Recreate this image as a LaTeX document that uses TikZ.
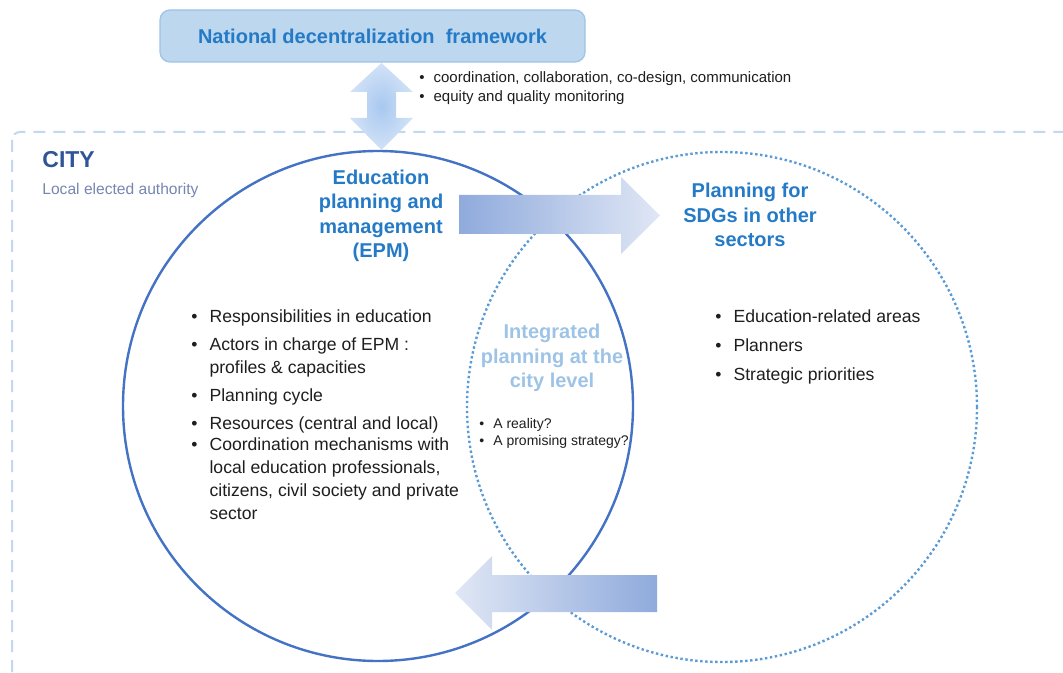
\documentclass[tikz,border=0pt]{standalone}
\usepackage{fontspec}
\setmainfont{Liberation Sans}
\definecolor{headblue}{RGB}{36,122,198}
\definecolor{paleblue}{RGB}{157,195,230}
\definecolor{cityblue}{RGB}{47,85,151}
\definecolor{greyblue}{RGB}{118,134,176}
\definecolor{ringblue}{RGB}{68,114,196}
\definecolor{dotblue}{RGB}{91,155,213}
\definecolor{boxfill}{RGB}{189,215,238}
\definecolor{boxline}{RGB}{157,195,230}
\definecolor{dashblue}{RGB}{194,216,240}
\definecolor{arrowdark}{RGB}{143,170,220}
\definecolor{arrowlight}{RGB}{224,231,245}
\definecolor{linkinner}{RGB}{168,200,240}
\definecolor{linkouter}{RGB}{210,226,246}
\definecolor{bodytext}{RGB}{30,30,30}
\tikzset{
    natbox/.style={rounded corners=5pt, fill=boxfill, draw=boxline, line width=0.6pt, minimum width=212.5pt, minimum height=26pt, font=\fontsize{10}{12}\selectfont\bfseries, text=headblue},
    heading/.style={align=center, font=\fontsize{10}{12.2}\selectfont\bfseries, text=headblue},
    ring/.style={circle, draw=ringblue, line width=1.2pt, minimum size=255pt, inner sep=0},
    dotring/.style={circle, draw=dotblue, line width=1.2pt, dash pattern=on 1.2pt off 1.3pt, minimum size=255pt, inner sep=0},
    bullets/.style={anchor=base west, inner sep=0, font=\fontsize{8.8}{11.5}\selectfont, text=bodytext},
    notes/.style={anchor=base west, inner sep=0, text=bodytext}
}

\begin{document}
\begin{tikzpicture}[x=0.5pt, y=-0.5pt]
    \useasboundingbox (0,0) rectangle (1063,673);
    \draw[dashblue, line width=1pt, dash pattern=on 6pt off 4pt, rounded corners=4pt] (12,132) rectangle (1090,700);
    \node[ring] (epm) at (378,406) {};
    \node[dotring] (sdg) at (722,407) {};
    \node[natbox] (nat) at (372.5,36) {National decentralization \ framework};
    \shade[inner color=linkinner, outer color=linkouter]
        (381.5,63) -- ++(31.5,29) -- ++(-17,0) -- ++(0,26) -- ++(17,0) -- (381.5,150)
        -- ++(-31.5,-32) -- ++(17,0) -- ++(0,-26) -- ++(-17,0) -- cycle;
    \shade[left color=arrowdark, right color=arrowlight]
        (459,195) -- (621,195) -- (621,177) -- (660,215.5) -- (621,254) -- (621,234) -- (459,234) -- cycle;
    \shade[left color=arrowlight, right color=arrowdark]
        (657,575) -- (492,575) -- (492,556) -- (455,593) -- (492,630) -- (492,612) -- (657,612) -- cycle;
    \node[notes, font=\fontsize{7.5}{9.5}\selectfont] (links) at (419,82.5) {\begin{tabular}[t]{@{}l@{\hspace{4.5pt}}l@{}}
        \textbullet & coordination, collaboration, co-design, communication\\
        \textbullet & equity and quality monitoring
    \end{tabular}};
    \node[anchor=west, inner sep=0, font=\fontsize{11.5}{13}\selectfont\bfseries, text=cityblue] (city) at (42,160) {CITY};
    \node[anchor=west, inner sep=0, font=\fontsize{7.8}{9}\selectfont, text=greyblue] (authority) at (42,190) {Local elected authority};
    \node[heading] (epmtitle) at (381,216) {Education\\planning and\\management\\(EPM)};
    \node[heading] (sdgtitle) at (750,215) {Planning for\\SDGs in other\\sectors};
    \node[heading, text=paleblue] (integrated) at (552,358) {Integrated\\planning at the\\city level};
    \node[bullets] (epmlist) at (191,322.5) {\begin{tabular}[t]{@{}l@{\hspace{6pt}}l@{}}
        \textbullet & Responsibilities in education\\[2.5pt]
        \textbullet & Actors in charge of EPM :\\
                    & profiles \& capacities\\[2.5pt]
        \textbullet & Planning cycle\\[2.5pt]
        \textbullet & Resources (central and local)\\[-1pt]
        \textbullet & Coordination mechanisms with\\
                    & local education professionals,\\
                    & citizens, civil society and private\\
                    & sector
    \end{tabular}};
    \node[bullets] (sdglist) at (715,322.5) {\begin{tabular}[t]{@{}l@{\hspace{6pt}}l@{}}
        \textbullet & Education-related areas\\[3pt]
        \textbullet & Planners\\[3pt]
        \textbullet & Strategic priorities
    \end{tabular}};
    \node[notes, font=\fontsize{7}{8.5}\selectfont] (questions) at (479,428) {\begin{tabular}[t]{@{}l@{\hspace{4.5pt}}l@{}}
        \textbullet & A reality?\\
        \textbullet & A promising strategy?
    \end{tabular}};
\end{tikzpicture}
\end{document}
